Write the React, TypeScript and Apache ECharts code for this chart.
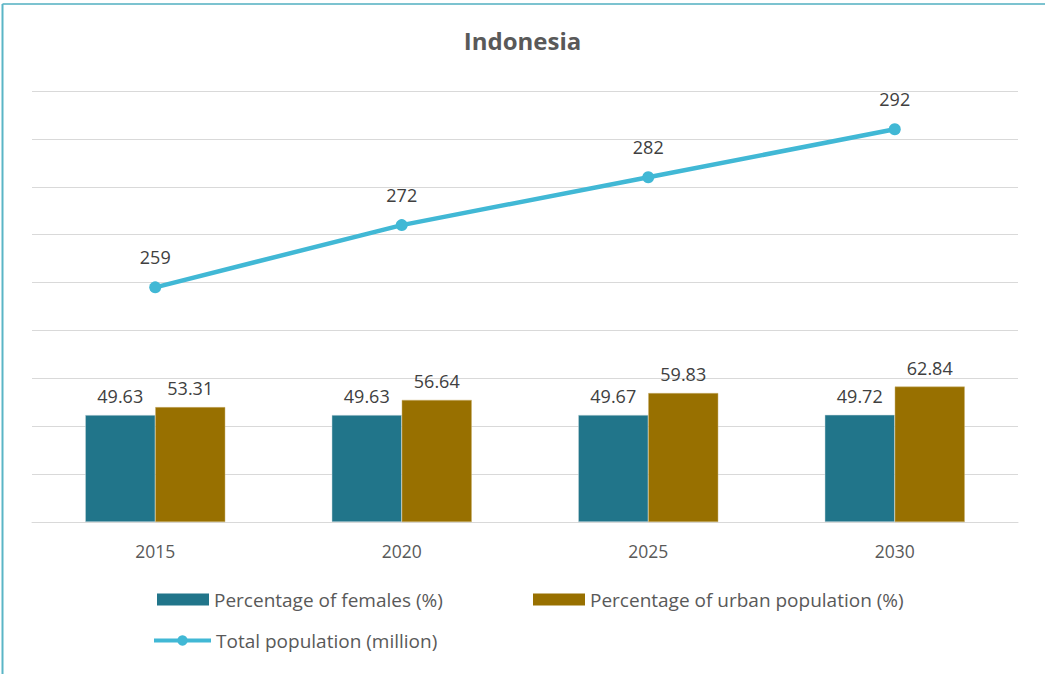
import React, { useEffect, useRef } from "react";
import * as echarts from "echarts";

const years = ["2015", "2020", "2025", "2030"];
const femalesPct = [49.63, 49.63, 49.67, 49.72];
const urbanPct = [53.31, 56.64, 59.83, 62.84];
const totalPop = [259, 272, 282, 292];

const FONT = "'Open Sans', Lato, sans-serif";

export default function App() {
  const ref = useRef<HTMLDivElement>(null);
  useEffect(() => {
    if (!ref.current) return;
    const chart = echarts.init(ref.current, null, { renderer: "svg" });
    const legendText = { fontFamily: FONT, fontSize: 19, color: "#595959" };
    const labelStyle = { color: "#404040", fontSize: 18, fontFamily: FONT };
    chart.setOption({
      animation: false,
      backgroundColor: "#ffffff",
      textStyle: { fontFamily: FONT },
      title: {
        text: "Indonesia",
        left: "center",
        top: 28,
        padding: 0,
        textStyle: { fontFamily: FONT, fontSize: 24, fontWeight: "bold", color: "#595959" },
      },
      graphic: [
        { type: "line", shape: { x1: 2.5, y1: 4, x2: 1045, y2: 4 }, style: { stroke: "#7cc3d0", lineWidth: 2 } },
        { type: "line", shape: { x1: 2.5, y1: 4, x2: 2.5, y2: 674 }, style: { stroke: "#5ab5c6", lineWidth: 2 } },
      ],
      legend: [
        {
          data: [{ name: "Percentage of females (%)", icon: "rect" }],
          left: 157, top: 590, padding: 0, itemWidth: 52, itemHeight: 12, itemGap: 5,
          itemStyle: { borderWidth: 0 },
          textStyle: legendText,
        },
        {
          data: [{ name: "Percentage of urban population (%)", icon: "rect" }],
          left: 533, top: 590, padding: 0, itemWidth: 52, itemHeight: 12,
          itemStyle: { borderWidth: 0 },
          textStyle: legendText,
        },
        {
          data: ["Total population (million)"],
          left: 152, top: 631, padding: 0, itemWidth: 57, itemHeight: 13,
          lineStyle: { width: 4 },
          textStyle: legendText,
        },
      ],
      grid: { left: 32, right: 27, top: 91, bottom: 152, containLabel: false },
      xAxis: {
        type: "category",
        data: years,
        axisLine: { lineStyle: { color: "#d9d9d9", width: 1 } },
        axisTick: { show: false },
        axisLabel: { color: "#595959", fontSize: 17.5, fontFamily: FONT, margin: 20 },
      },
      yAxis: [
        { type: "value", min: 0, max: 200, show: false, splitLine: { show: false } },
        {
          type: "value", min: 210, max: 300, interval: 10,
          axisLabel: { show: false }, axisLine: { show: false }, axisTick: { show: false },
          splitLine: { show: true, lineStyle: { color: "#d9d9d9", width: 1 } },
        },
      ],
      series: [
        {
          name: "Percentage of females (%)",
          type: "bar",
          yAxisIndex: 0,
          data: femalesPct,
          barWidth: 70,
          barGap: "0%",
          itemStyle: { color: "#21758a", borderColor: "#c9d9dc", borderWidth: 0.5 },
          label: { show: true, position: "top", distance: 10, ...labelStyle },
        },
        {
          name: "Percentage of urban population (%)",
          type: "bar",
          yAxisIndex: 0,
          data: urbanPct,
          barWidth: 70,
          barGap: "0%",
          itemStyle: { color: "#987000", borderColor: "#c8b070", borderWidth: 0.5 },
          label: { show: true, position: "top", distance: 10, ...labelStyle },
        },
        {
          name: "Total population (million)",
          type: "line",
          yAxisIndex: 1,
          data: totalPop,
          symbol: "circle",
          symbolSize: 12,
          lineStyle: { color: "#41b8d5", width: 4.5 },
          itemStyle: { color: "#41b8d5" },
          label: { show: true, position: "top", distance: 15, ...labelStyle },
        },
      ],
    });
    return () => chart.dispose();
  }, []);
  return (
    <div style={{ position: "absolute", left: 0, top: 0, width: 1045, height: 674 }}>
      <div ref={ref} style={{ width: 1045, height: 674 }} />
    </div>
  );
}
